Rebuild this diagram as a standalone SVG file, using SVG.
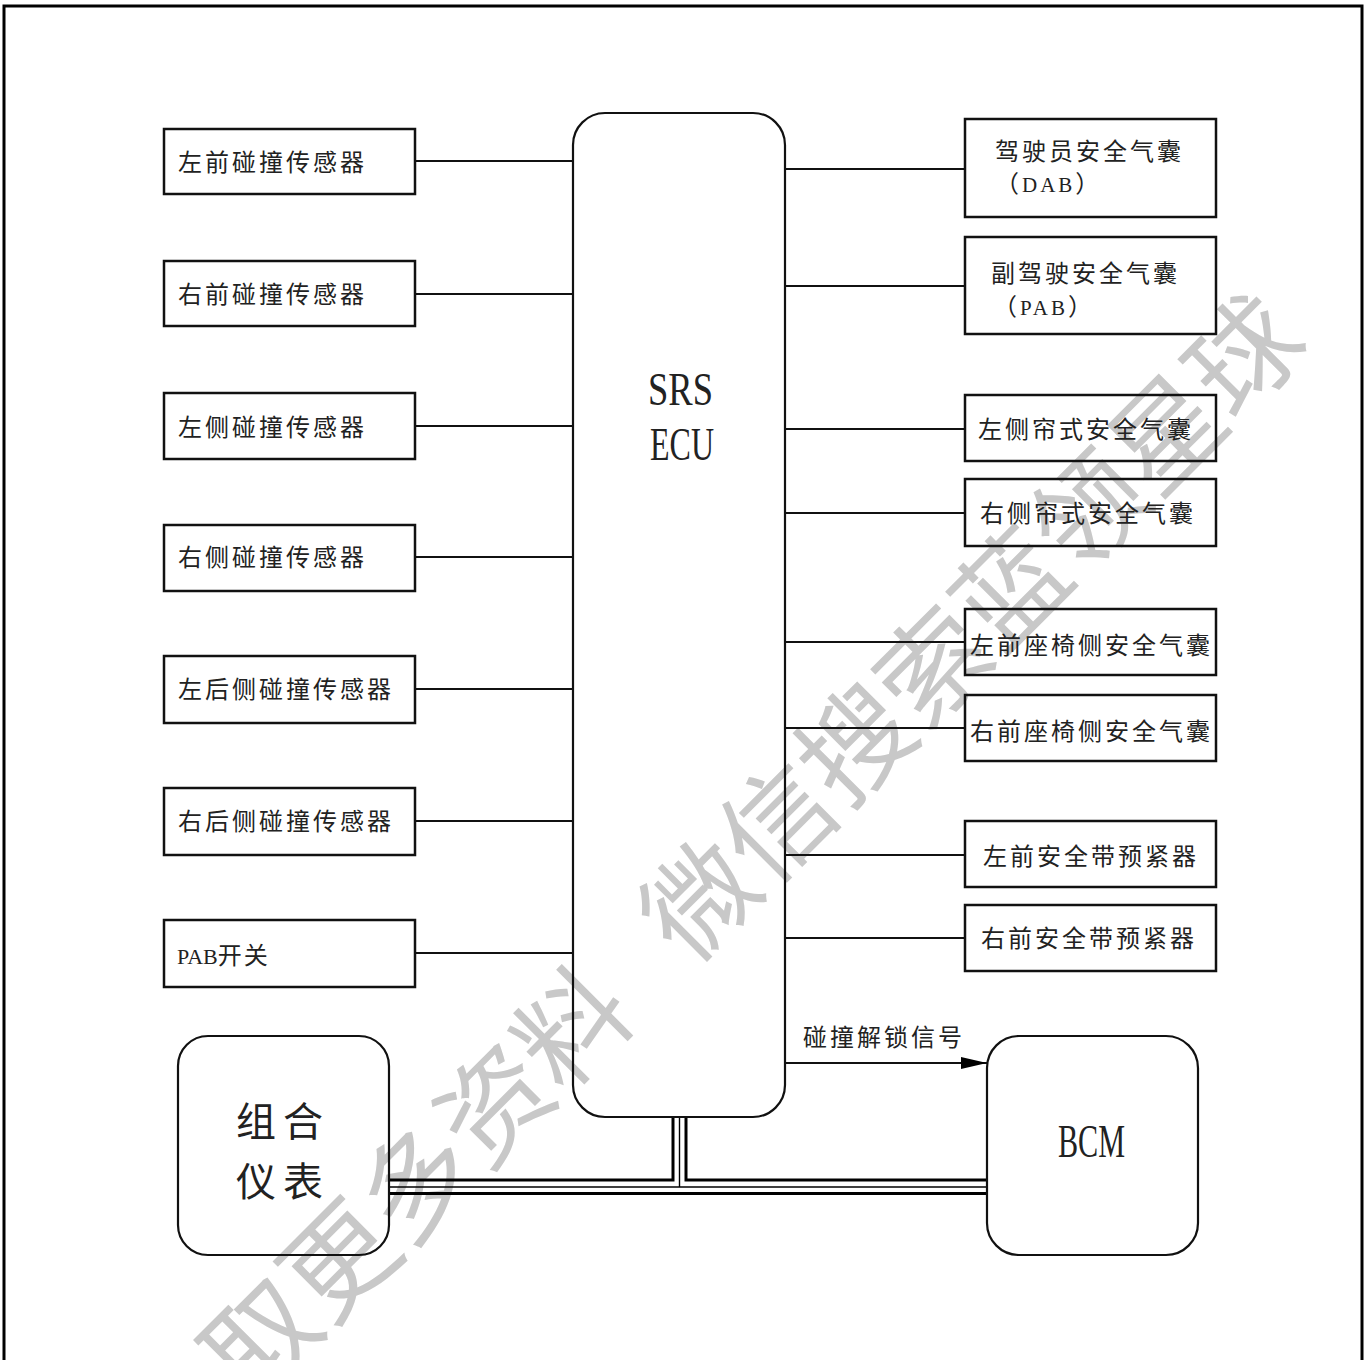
<svg xmlns="http://www.w3.org/2000/svg" width="1365" height="1360" viewBox="0 0 1365 1360">
<style>
.frame{fill:none;stroke:#000;stroke-width:3}
.box{fill:none;stroke:#111;stroke-width:2.5}
.rbox{fill:none;stroke:#111;stroke-width:2.2}
.ln{stroke:#111;stroke-width:2;fill:none}
.bus{stroke:#000;stroke-width:3;fill:none}
.busc{stroke:#000;stroke-width:1.4;fill:none}
.t{font-family:"Noto Sans CJK SC","Noto Sans CJK JP",sans-serif;font-size:24px;letter-spacing:3px;fill:#222}
.lat{font-family:"Liberation Serif",serif;fill:#222}
.big{font-family:"Noto Sans CJK SC",sans-serif;font-size:40px;letter-spacing:7px;fill:#222}
.wm{font-family:"Noto Sans CJK SC",sans-serif;font-size:110px;fill:#c8c8c8}
</style>
<defs>
<marker id="arr" markerWidth="26" markerHeight="14" refX="26" refY="7" orient="auto" markerUnits="userSpaceOnUse">
<path d="M0,1 L26,7 L0,13 Z" fill="#000"/>
</marker>
</defs>
<rect x="0" y="0" width="1365" height="1360" fill="#fff"/>
<g id="watermark" transform="translate(700,900) rotate(-45)">
<text class="wm" x="-55" y="40">微信搜索蓝领星球</text>
<text class="wm" x="-125" y="40" text-anchor="end">取更多资料</text>
</g>
<rect class="frame" x="4" y="6" width="1358" height="1400"/>
<g id="connectors">
<line class="ln" x1="415" y1="161" x2="573" y2="161"/>
<line class="ln" x1="415" y1="294" x2="573" y2="294"/>
<line class="ln" x1="415" y1="426" x2="573" y2="426"/>
<line class="ln" x1="415" y1="557" x2="573" y2="557"/>
<line class="ln" x1="415" y1="689" x2="573" y2="689"/>
<line class="ln" x1="415" y1="821" x2="573" y2="821"/>
<line class="ln" x1="415" y1="953" x2="573" y2="953"/>
<line class="ln" x1="785" y1="169" x2="965" y2="169"/>
<line class="ln" x1="785" y1="286" x2="965" y2="286"/>
<line class="ln" x1="785" y1="429" x2="965" y2="429"/>
<line class="ln" x1="785" y1="513" x2="965" y2="513"/>
<line class="ln" x1="785" y1="642" x2="965" y2="642"/>
<line class="ln" x1="785" y1="728" x2="965" y2="728"/>
<line class="ln" x1="785" y1="855" x2="965" y2="855"/>
<line class="ln" x1="785" y1="938" x2="965" y2="938"/>
<line class="ln" x1="785" y1="1063" x2="987" y2="1063" marker-end="url(#arr)"/>
<text class="t" x="803" y="1046">碰撞解锁信号</text>
<path class="bus" d="M673,1117 V1180 H389"/>
<path class="bus" d="M686,1117 V1180 H987"/>
<path class="busc" d="M679.5,1117 V1187"/>
<line class="busc" x1="389" y1="1187" x2="987" y2="1187"/>
<line class="bus" x1="389" y1="1193.5" x2="987" y2="1193.5"/>
</g>
<g id="srs-ecu">
<rect class="rbox" x="573" y="113" width="212" height="1004" rx="32"/>
<text class="lat" x="648" y="405" font-size="46" textLength="65" lengthAdjust="spacingAndGlyphs">SRS</text>
<text class="lat" x="650" y="460" font-size="46" textLength="64" lengthAdjust="spacingAndGlyphs">ECU</text>
</g>
<g id="n-lf"><rect class="box" x="164" y="129" width="251" height="65"/><text class="t" x="178" y="171">左前碰撞传感器</text></g>
<g id="n-rf"><rect class="box" x="164" y="261" width="251" height="65"/><text class="t" x="178" y="303">右前碰撞传感器</text></g>
<g id="n-ls"><rect class="box" x="164" y="393" width="251" height="66"/><text class="t" x="178" y="436">左侧碰撞传感器</text></g>
<g id="n-rs"><rect class="box" x="164" y="525" width="251" height="66"/><text class="t" x="178" y="566">右侧碰撞传感器</text></g>
<g id="n-lrs"><rect class="box" x="164" y="656" width="251" height="67"/><text class="t" x="178" y="698">左后侧碰撞传感器</text></g>
<g id="n-rrs"><rect class="box" x="164" y="788" width="251" height="67"/><text class="t" x="178" y="830">右后侧碰撞传感器</text></g>
<g id="n-pabsw"><rect class="box" x="164" y="920" width="251" height="67"/><text class="t" x="177" y="964"><tspan class="lat" font-size="22" letter-spacing="0">PAB</tspan><tspan letter-spacing="2">开关</tspan></text></g>
<g id="n-dab"><rect class="box" x="965" y="119" width="251" height="98"/><text class="t" x="995" y="160">驾驶员安全气囊</text><text class="t" x="995" y="192" letter-spacing="0">（<tspan class="lat" font-size="21">DAB</tspan>）</text></g>
<g id="n-pab"><rect class="box" x="965" y="237" width="251" height="97"/><text class="t" x="991" y="282">副驾驶安全气囊</text><text class="t" x="993" y="315" letter-spacing="0">（<tspan class="lat" font-size="21">PAB</tspan>）</text></g>
<g id="n-lcur"><rect class="box" x="965" y="395" width="251" height="66"/><text class="t" x="978" y="438">左侧帘式安全气囊</text></g>
<g id="n-rcur"><rect class="box" x="965" y="479" width="251" height="67"/><text class="t" x="980" y="522">右侧帘式安全气囊</text></g>
<g id="n-lseat"><rect class="box" x="965" y="609" width="251" height="66"/><text class="t" x="970" y="654">左前座椅侧安全气囊</text></g>
<g id="n-rseat"><rect class="box" x="965" y="695" width="251" height="66"/><text class="t" x="970" y="740">右前座椅侧安全气囊</text></g>
<g id="n-lbelt"><rect class="box" x="965" y="821" width="251" height="66"/><text class="t" x="983" y="865">左前安全带预紧器</text></g>
<g id="n-rbelt"><rect class="box" x="965" y="905" width="251" height="66"/><text class="t" x="981" y="947">右前安全带预紧器</text></g>
<g id="n-cluster">
<rect class="rbox" x="178" y="1036" width="211" height="219" rx="30"/>
<text class="big" x="236" y="1136">组合</text>
<text class="big" x="236" y="1196">仪表</text>
</g>
<g id="n-bcm">
<rect class="rbox" x="987" y="1036" width="211" height="219" rx="32"/>
<text class="lat" x="1058" y="1157" font-size="46" textLength="67" lengthAdjust="spacingAndGlyphs">BCM</text>
</g>
</svg>
